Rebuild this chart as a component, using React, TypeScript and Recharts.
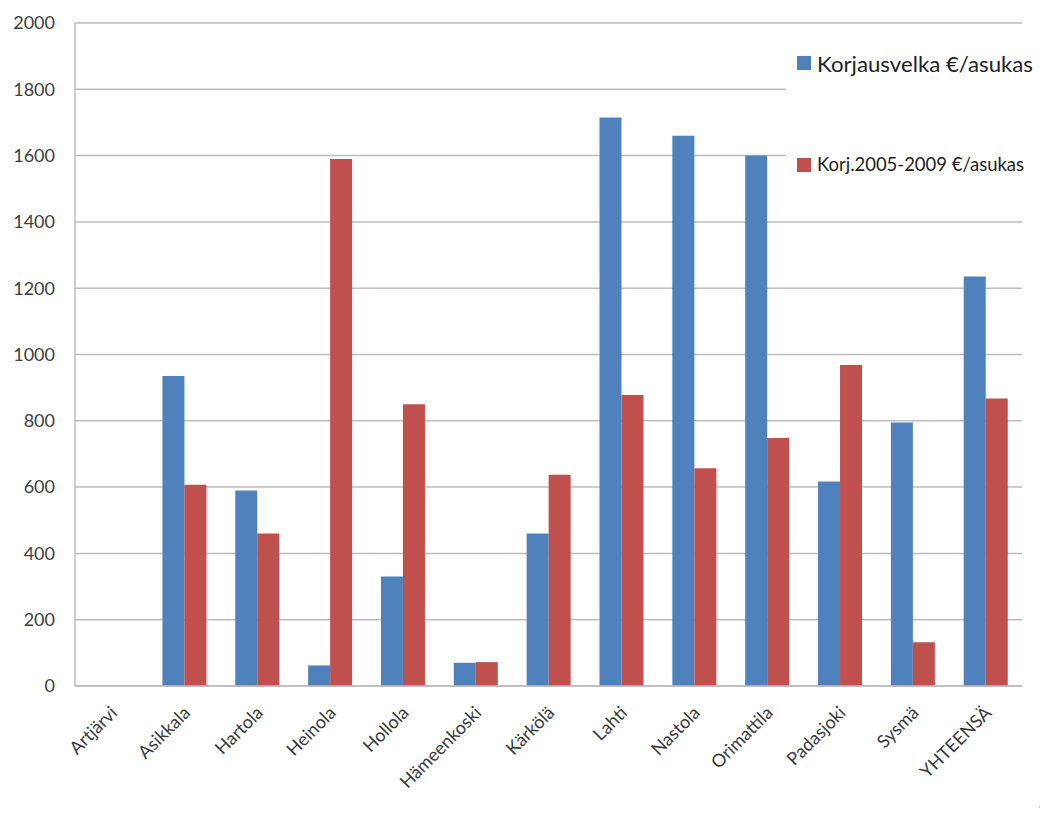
import React from "react";
import { BarChart, Bar, XAxis, YAxis, CartesianGrid } from "recharts";

const categories = [
  "Artjärvi", "Asikkala", "Hartola", "Heinola", "Hollola", "Hämeenkoski",
  "Kärkölä", "Lahti", "Nastola", "Orimattila", "Padasjoki", "Sysmä", "YHTEENSÄ",
];
const korjausvelka = [0, 935, 590, 62, 330, 70, 460, 1715, 1660, 1600, 617, 795, 1235];
const korj2005_2009 = [0, 607, 460, 1590, 850, 72, 637, 878, 657, 748, 968, 132, 867];
const yTicks = [0, 200, 400, 600, 800, 1000, 1200, 1400, 1600, 1800, 2000];
const seriesNames = ["Korjausvelka €/asukas", "Korj.2005-2009 €/asukas"];

const data = categories.map((c, i) => ({
  name: c,
  a: korjausvelka[i],
  b: korj2005_2009[i],
}));

const FONT = "Lato, 'Open Sans', sans-serif";
const BLUE = "#4F81BD";
const RED = "#C0504D";
const GRID = "#BDBDBD";

const XTick = (props: any) => {
  const { x, y, payload } = props;
  const ax = x + 7;
  const ay = y + 28;
  return (
    <text
      x={ax}
      y={ay}
      textAnchor="end"
      transform={`rotate(-45 ${ax} ${ay})`}
      fill="#3a3a3a"
      fontSize={18}
      fontFamily={FONT}
    >
      {payload.value}
    </text>
  );
};

const YTick = (props: any) => {
  const { x, y, payload } = props;
  return (
    <text x={x} y={y} dy="0.35em" textAnchor="end" fill="#404040" fontSize={18} fontFamily={FONT}>
      {payload.value}
    </text>
  );
};

export default function App() {
  return (
    <div style={{ position: "relative", width: 1040, height: 809 }}>
      <BarChart
        width={1040}
        height={809}
        data={data}
        margin={{ top: 15, right: 26, left: 0, bottom: 0 }}
        barCategoryGap="20%"
        barGap={0}
      >
        <CartesianGrid vertical={false} stroke={GRID} strokeWidth={1.5} />
        <XAxis
          dataKey="name"
          height={131}
          interval={0}
          tickLine={false}
          tickSize={0}
          tickMargin={0}
          axisLine={{ stroke: GRID, strokeWidth: 1.5 }}
          tick={<XTick />}
        />
        <YAxis
          width={67}
          domain={[0, 2000]}
          ticks={yTicks}
          interval={0}
          tickLine={false}
          tickSize={0}
          tickMargin={20}
          axisLine={{ stroke: GRID, strokeWidth: 1.5 }}
          tick={<YTick />}
        />
        <Bar dataKey="a" name={seriesNames[0]} fill={BLUE} isAnimationActive={false} />
        <Bar dataKey="b" name={seriesNames[1]} fill={RED} isAnimationActive={false} />
      </BarChart>
      <div
        style={{
          position: "absolute",
          left: 778,
          top: 22,
          width: 262,
          height: 186,
          background: "#fff",
        }}
      >
        <svg width={262} height={186}>
          <rect x={11} y={26} width={14} height={14} fill={BLUE} />
          <text x={31} y={42} fontSize={22} fontFamily={FONT} fill="#222" textLength={216} lengthAdjust="spacingAndGlyphs">
            {seriesNames[0]}
          </text>
          <rect x={11} y={128} width={14} height={14} fill={RED} />
          <text x={31} y={141} fontSize={19} fontFamily={FONT} fill="#222" textLength={207} lengthAdjust="spacingAndGlyphs">
            {seriesNames[1]}
          </text>
        </svg>
      </div>
      <svg style={{ position: "absolute", left: 1028, top: 780, display: "block" }} width={12} height={28}>
        <text x={3} y={20} fontSize={16} fontWeight="bold" fontFamily={FONT} fill="#222">.</text>
      </svg>
    </div>
  );
}
